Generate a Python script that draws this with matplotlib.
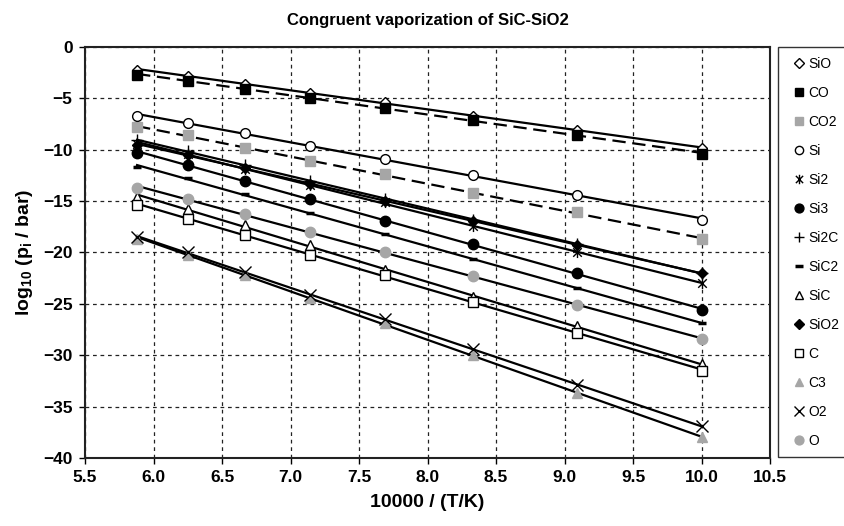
import matplotlib
matplotlib.use("Agg")
import matplotlib.pyplot as plt
import numpy as np
from matplotlib.path import Path
from matplotlib.ticker import MultipleLocator, FormatStrFormatter

plt.rcParams['font.family'] = ['Liberation Sans', 'DejaVu Sans']
plt.rcParams['font.weight'] = 'bold'
plt.rcParams['mathtext.fontset'] = 'custom'
plt.rcParams['mathtext.rm'] = 'Liberation Sans:bold'
plt.rcParams['mathtext.bf'] = 'Liberation Sans:bold'
plt.rcParams['mathtext.it'] = 'Liberation Sans:bold'

# 10000/T for T = 1700 ... 1000 K
inv_t = [5.88, 6.25, 6.67, 7.14, 7.69, 8.33, 9.09, 10.0]

species = ["SiO", "CO", "CO2", "Si", "Si2", "Si3", "Si2C", "SiC2",
           "SiC", "SiO2", "C", "C3", "O2", "O"]

log_p_sio = [-2.2, -2.8, -3.6, -4.5, -5.4, -6.7, -8.1, -9.8]
log_p_co = [-2.7, -3.3, -4.1, -5.0, -5.9, -7.1, -8.6, -10.4]
log_p_co2 = [-7.8, -8.6, -9.8, -11.1, -12.4, -14.2, -16.1, -18.7]
log_p_si = [-6.7, -7.4, -8.4, -9.6, -10.9, -12.5, -14.4, -16.8]
log_p_si2 = [-9.4, -10.4, -11.9, -13.4, -15.1, -17.4, -20.0, -23.0]
log_p_si3 = [-10.3, -11.5, -13.0, -14.8, -16.9, -19.2, -22.0, -25.6]
log_p_si2c = [-9.1, -10.1, -11.5, -13.0, -14.8, -16.8, -19.2, -22.0]
log_p_sic2 = [-11.7, -12.8, -14.3, -16.2, -18.2, -20.6, -23.5, -26.9]
log_p_sic = [-14.6, -15.8, -17.3, -19.3, -21.7, -24.3, -27.2, -30.9]
log_p_sio2 = [-9.5, -10.5, -11.8, -13.3, -15.0, -16.9, -19.3, -22.0]
log_p_c = [-15.4, -16.7, -18.3, -20.2, -22.2, -24.8, -27.8, -31.5]
log_p_c3 = [-18.7, -20.2, -22.2, -24.4, -26.9, -30.0, -33.7, -38.0]
log_p_o2 = [-18.5, -20.0, -21.9, -24.1, -26.5, -29.4, -32.9, -36.9]
log_p_o = [-13.7, -14.8, -16.3, -18.0, -20.0, -22.3, -25.1, -28.4]

grey = "#a6a6a6"

# excel style star: an x with a vertical bar
star = Path([(-1, -1), (1, 1), (-1, 1), (1, -1), (0, -1.3), (0, 1.3)],
            [Path.MOVETO, Path.LINETO, Path.MOVETO, Path.LINETO,
             Path.MOVETO, Path.LINETO])

styles = {
    "SiO": dict(marker="D", mfc="white", mec="black", ms=5.5),
    "CO": dict(marker="s", mfc="black", mec="black", ms=6.5),
    "CO2": dict(marker="s", mfc=grey, mec=grey, ms=6.5),
    "Si": dict(marker="o", mfc="white", mec="black", ms=7),
    "Si2": dict(marker=star, mfc="none", mec="black", ms=8, mew=1),
    "Si3": dict(marker="o", mfc="black", mec="black", ms=7.5),
    "Si2C": dict(marker="+", mfc="none", mec="black", ms=9, mew=1),
    "SiC2": dict(marker="_", mfc="none", mec="black", ms=6, mew=2.5),
    "SiC": dict(marker="^", mfc="white", mec="black", ms=7),
    "SiO2": dict(marker="D", mfc="black", mec="black", ms=5.5),
    "C": dict(marker="s", mfc="white", mec="black", ms=7),
    "C3": dict(marker="^", mfc=grey, mec=grey, ms=7),
    "O2": dict(marker="x", mfc="none", mec="black", ms=9, mew=1),
    "O": dict(marker="o", mfc=grey, mec=grey, ms=7.5),
}

data = {
    "SiO": log_p_sio, "CO": log_p_co, "CO2": log_p_co2, "Si": log_p_si,
    "Si2": log_p_si2, "Si3": log_p_si3, "Si2C": log_p_si2c,
    "SiC2": log_p_sic2, "SiC": log_p_sic, "SiO2": log_p_sio2,
    "C": log_p_c, "C3": log_p_c3, "O2": log_p_o2, "O": log_p_o,
}

fig = plt.figure(figsize=(8.45, 5.26), dpi=100)
ax = fig.add_axes([0.1006, 0.1293, 0.8107, 0.7814])

x = np.array(inv_t)
for name in species:
    y = np.array(data[name])
    # linear trend line through each series
    k, b = np.polyfit(x, y, 1)
    ls = (0, (6, 3)) if name in ("CO", "CO2") else "-"
    ax.plot([x[0], x[-1]], [k * x[0] + b, k * x[-1] + b], color="black",
            lw=1.6, ls=ls, zorder=2)
    ax.plot(x, y, ls="none", label=name, zorder=3, **styles[name])

ax.set_xlim(5.5, 10.5)
ax.set_ylim(-40, 0)
ax.xaxis.set_major_locator(MultipleLocator(0.5))
ax.xaxis.set_major_formatter(FormatStrFormatter("%.1f"))
ax.yaxis.set_major_locator(MultipleLocator(5))
ax.grid(True, color="#222222", ls=(0, (3, 3)), lw=0.9)
ax.set_axisbelow(True)
for sp in ax.spines.values():
    sp.set_linewidth(1.5)
    sp.set_color("#222222")
ax.tick_params(direction="out", length=4, width=1, labelsize=12.5, pad=5)

ax.set_title("Congruent vaporization of SiC-SiO2", fontsize=12,
             fontweight="bold", pad=16)
ax.set_xlabel("10000 / (T/K)", fontsize=14, fontweight="bold",
              labelpad=6)
ax.set_ylabel(r"log$_{10}$ (p$_i$ / bar)", fontsize=14,
              fontweight="bold", labelpad=6)

leg = ax.legend(loc="upper left", bbox_to_anchor=(1.012, 1.0),
                borderaxespad=0, frameon=True, fancybox=False,
                edgecolor="black", prop={"size": 10, "weight": "normal"},
                labelspacing=1.08, handlelength=1.6, handletextpad=-0.15,
                borderpad=0.7, markerscale=0.85)
leg.get_frame().set_linewidth(1)

fig.savefig("out.png", dpi=100)
